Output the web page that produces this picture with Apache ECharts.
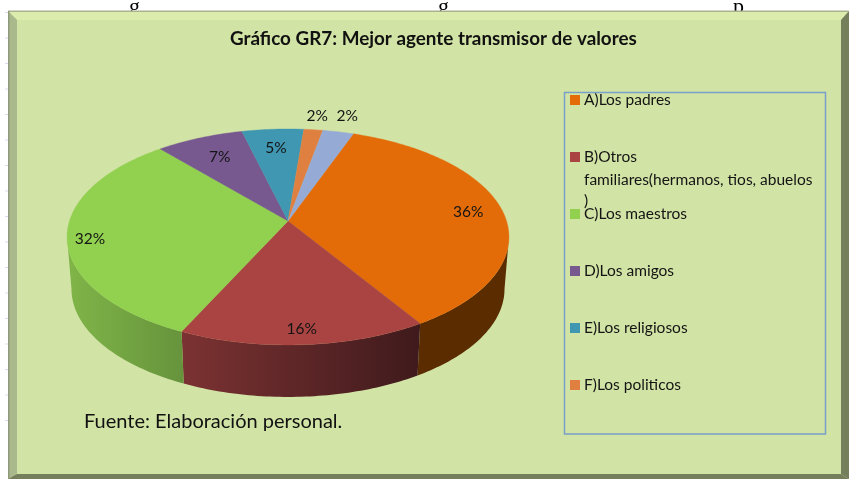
<!DOCTYPE html>
<html><head><meta charset="utf-8">
<style>html,body{margin:0;padding:0;background:#fff}#c{width:849px;height:479px}</style>
<script src="https://cdn.jsdelivr.net/npm/echarts@6/dist/echarts.min.js"></script>
</head><body><div id="c"></div>
<script>
// ---- data ----
const categories = ['A)Los padres','B)Otros','C)Los maestros','D)Los amigos','E)Los religiosos','F)Los politicos','G)'];
const values = [35.6, 15.8, 31.8, 7.4, 5.2, 1.6, 2.6];
const percentLabels = ['36%','16%','32%','7%','5%','2%','2%'];
const legendCategories = categories.slice(0, 6);
const legendContinuation = 'familiares(hermanos, tios, abuelos\n)';
const titleText = 'Gráfico GR7: Mejor agente transmisor de valores';
const sourceText = 'Fuente: Elaboración personal.';

// ---- styles and layout ----
const topColors = ['#e36c09','#a94442','#92d050','#77598f','#3f97b2','#e08040','#95abd6'];
const wallColors = [['#5a2c00','#5a2c00'],['#7c3232','#3f1a1c'],['#80b548','#66933c'],null,null,null,null];
const labelRatio = [0.84,0.89,0.90,0.75,0.77,1.18,1.21];
const labelDegShift = [0,0,-3,0,0,0,0];
const FONT = 'Lato, "Open Sans", sans-serif';
const CX = 288, APEX_Y = 221, K = 218.5, B = 72.9, A = -0.148, DEPTH = 52, BOTTOM_SCALE = 0.98;
const START_DEG = 19.9, WALL_FROM = 98.5, WALL_TO = 261.5;

// Perspective projection of the pie's unit disc on to the page
function project(deg, r, bottom) {
  const t = deg * Math.PI / 180, u = Math.sin(t) * r, v = -Math.cos(t) * r, w = 1 + A * v;
  return [CX + (bottom ? K * BOTTOM_SCALE : K) * u / w, (B * v + APEX_Y) / w + (bottom ? DEPTH : 0)];
}
const total = values.reduce((a, b) => a + b, 0);
const startAngles = [];
values.reduce((acc, v, i) => { startAngles[i] = acc; return acc + v / total * 360; }, START_DEG);

function arc(a, b, bottom) {
  const pts = [], n = Math.max(2, Math.ceil(Math.abs(b - a)));
  for (let i = 0; i <= n; i++) pts.push(project(a + (b - a) * i / n, 1, bottom));
  return pts;
}
function renderSlice(params, api) {
  const i = params.seriesIndex, sweep = api.value(0) / total * 360;
  const a = startAngles[i], b = a + sweep, children = [];
  if (wallColors[i]) {
    const f = Math.max(a, WALL_FROM), t = Math.min(b, WALL_TO);
    if (t > f) {
      const pts = arc(f, t, false).concat(arc(t, f, true));
      const xs = pts.map(p => p[0]);
      const x0 = Math.min(...xs), x1 = Math.max(...xs);
      children.push({ type: 'polygon', shape: { points: pts }, style: {
        fill: new echarts.graphic.LinearGradient(x0, 0, x1, 0,
          [{ offset: 0, color: wallColors[i][0] }, { offset: 1, color: wallColors[i][1] }], true) } });
    }
  }
  children.push({ type: 'polygon', shape: { points: [project(0, 0, false)].concat(arc(a, b, false)) },
    style: { fill: topColors[i], stroke: topColors[i], lineWidth: 0.4 } });
  const p = project((a + b) / 2 + labelDegShift[i], labelRatio[i], false);
  children.push({ type: 'text', z2: 10, style: { x: p[0], y: p[1], text: percentLabels[i],
    fill: '#141414', font: '15.5px ' + FONT, align: 'center', verticalAlign: 'middle' } });
  return { type: 'group', children };
}

const W = 849, H = 479;
const frame = [
  { type: 'rect', z: -10, shape: { x: 8, y: 11, width: W - 8, height: H - 11 }, style: { fill: '#d1e3a5' } },
  { type: 'polygon', z: -9, shape: { points: [[8, 11], [W, 11], [841, 20], [17, 20]] }, style: { fill: '#dbecac' } },
  { type: 'rect', z: -8, shape: { x: 8, y: 10.5, width: W - 8, height: 1.5 }, style: { fill: '#a9b390' } },
  { type: 'polygon', z: -9, shape: { points: [[8, 11], [17, 20], [17, 474], [8, H]] }, style: { fill: '#a9b98b' } },
  { type: 'rect', z: -8, shape: { x: 8, y: 11, width: 1.5, height: H - 11 }, style: { fill: '#8f9a7c' } },
  { type: 'polygon', z: -9, shape: { points: [[W, 11], [841, 20], [841, 474], [W, H]] }, style: { fill: '#767f5c' } },
  { type: 'polygon', z: -9, shape: { points: [[8, H], [17, 474], [841, 474], [W, H]] }, style: { fill: '#767f5c' } },
  { type: 'rect', z: -7, shape: { x: 564.5, y: 92.5, width: 261, height: 341.5 },
    style: { fill: 'none', stroke: '#7a9fc9', lineWidth: 1.5 } },
  { type: 'text', z: 5, style: { x: 584, y: 169, text: legendContinuation, fill: '#141414',
    font: '15.5px ' + FONT, lineHeight: 21 } },
  { type: 'text', z: 5, style: { x: 84, y: 422, text: sourceText, fill: '#111',
    font: '20px ' + FONT, verticalAlign: 'middle' } }
];
// faint ruler marks left of the frame
for (let n = 0; n < 17; n++) {
  frame.push({ type: 'rect', z: -10, shape: { x: 5, y: 12 + n * 25.5, width: 3, height: 1 }, style: { fill: '#d8dcea' } });
}
// descenders of the cropped line of text above the chart
[['g', 129], ['g', 438], ['p', 733]].forEach(([ch, x]) => {
  frame.push({ type: 'text', z: -10, style: { x, y: -4, text: ch, fill: '#000',
    font: '22px "Liberation Serif", serif', verticalAlign: 'alphabetic' } });
});

const chart = echarts.init(document.getElementById('c'), null, { renderer: 'canvas' });
chart.setOption({
  animation: false,
  backgroundColor: '#ffffff',
  title: { text: titleText, left: 225, top: 24,
    textStyle: { fontFamily: FONT, fontWeight: 'bold', fontSize: 18.85, color: '#111' } },
  legend: { data: legendCategories, orient: 'vertical', left: 570, top: 92, padding: 0,
    icon: 'rect', itemWidth: 10, itemHeight: 10, itemGap: 41, selectedMode: false,
    textStyle: { fontFamily: FONT, fontSize: 15.5, color: '#141414', lineHeight: 14, padding: [0, 0, 0, -1] } },
  graphic: { elements: frame },
  series: categories.map((name, i) => ({
    type: 'custom', name, coordinateSystem: 'none', renderItem: renderSlice,
    itemStyle: { color: topColors[i] }, data: [[values[i]]], silent: true
  }))
});
</script></body></html>
